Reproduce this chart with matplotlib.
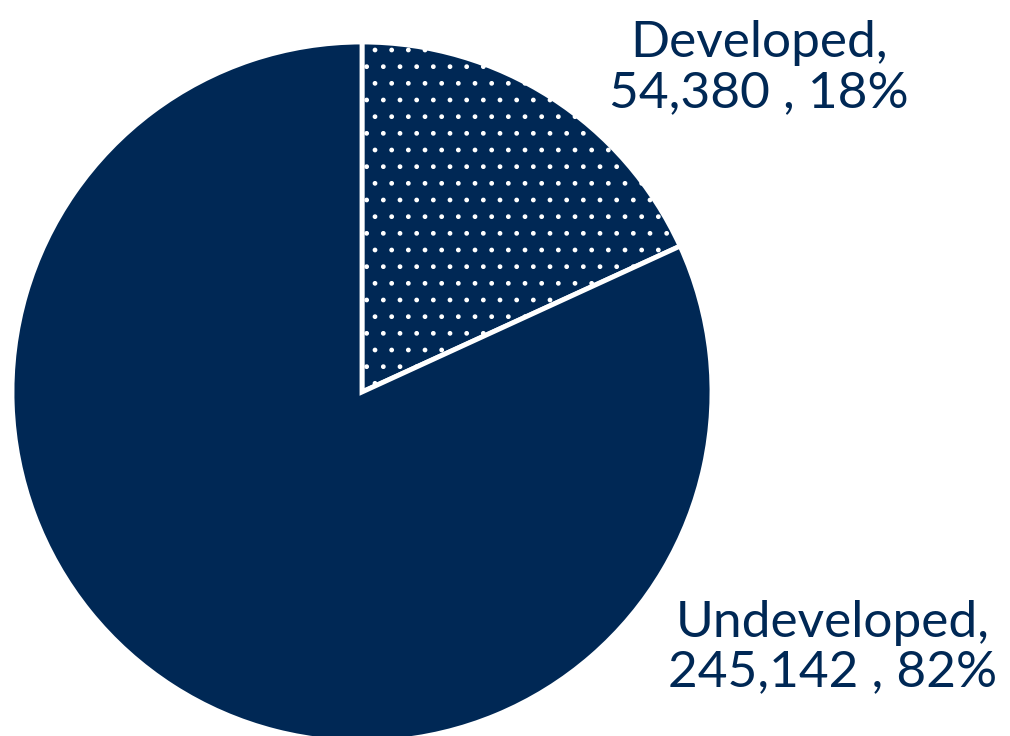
import matplotlib.pyplot as plt

categories = ['Developed', 'Undeveloped']
acres      = [54380, 245142]
hatches    = ['.', '']

NAVY = '#002855'

plt.rcParams['font.family'] = ['Lato', 'DejaVu Sans']
plt.rcParams['hatch.linewidth'] = 1.0

fig = plt.figure(figsize=(10.10, 7.36), dpi=100)
ax  = fig.add_axes([0, 0, 1, 1])

wedges, _ = ax.pie(
    acres,
    startangle    = 90,
    counterclock  = False,
    colors        = [NAVY, NAVY],
    radius        = 1.0,
    wedgeprops    = dict(edgecolor='white', linewidth=3.5),
)
for w, h in zip(wedges, hatches):
    w.set_hatch(h)

# pixel-like layout: centre at (362, 392), radius 350 px
ax.set_aspect('equal')
ax.set_xlim(-362 / 350, (1010 - 362) / 350)
ax.set_ylim(-(736 - 392) / 350, 392 / 350)
ax.axis('off')

total = sum(acres)
label_pos = [(1.135, 0.925), (1.345, -0.73)]
for name, val, (x, y) in zip(categories, acres, label_pos):
    pct = round(100 * val / total)
    ax.text(x, y, f"{name},\n{val:,} , {pct}%",
            ha='center', va='center', color=NAVY,
            fontsize=37, fontweight='normal', linespacing=1.1)

fig.savefig('out.png', dpi=100)
